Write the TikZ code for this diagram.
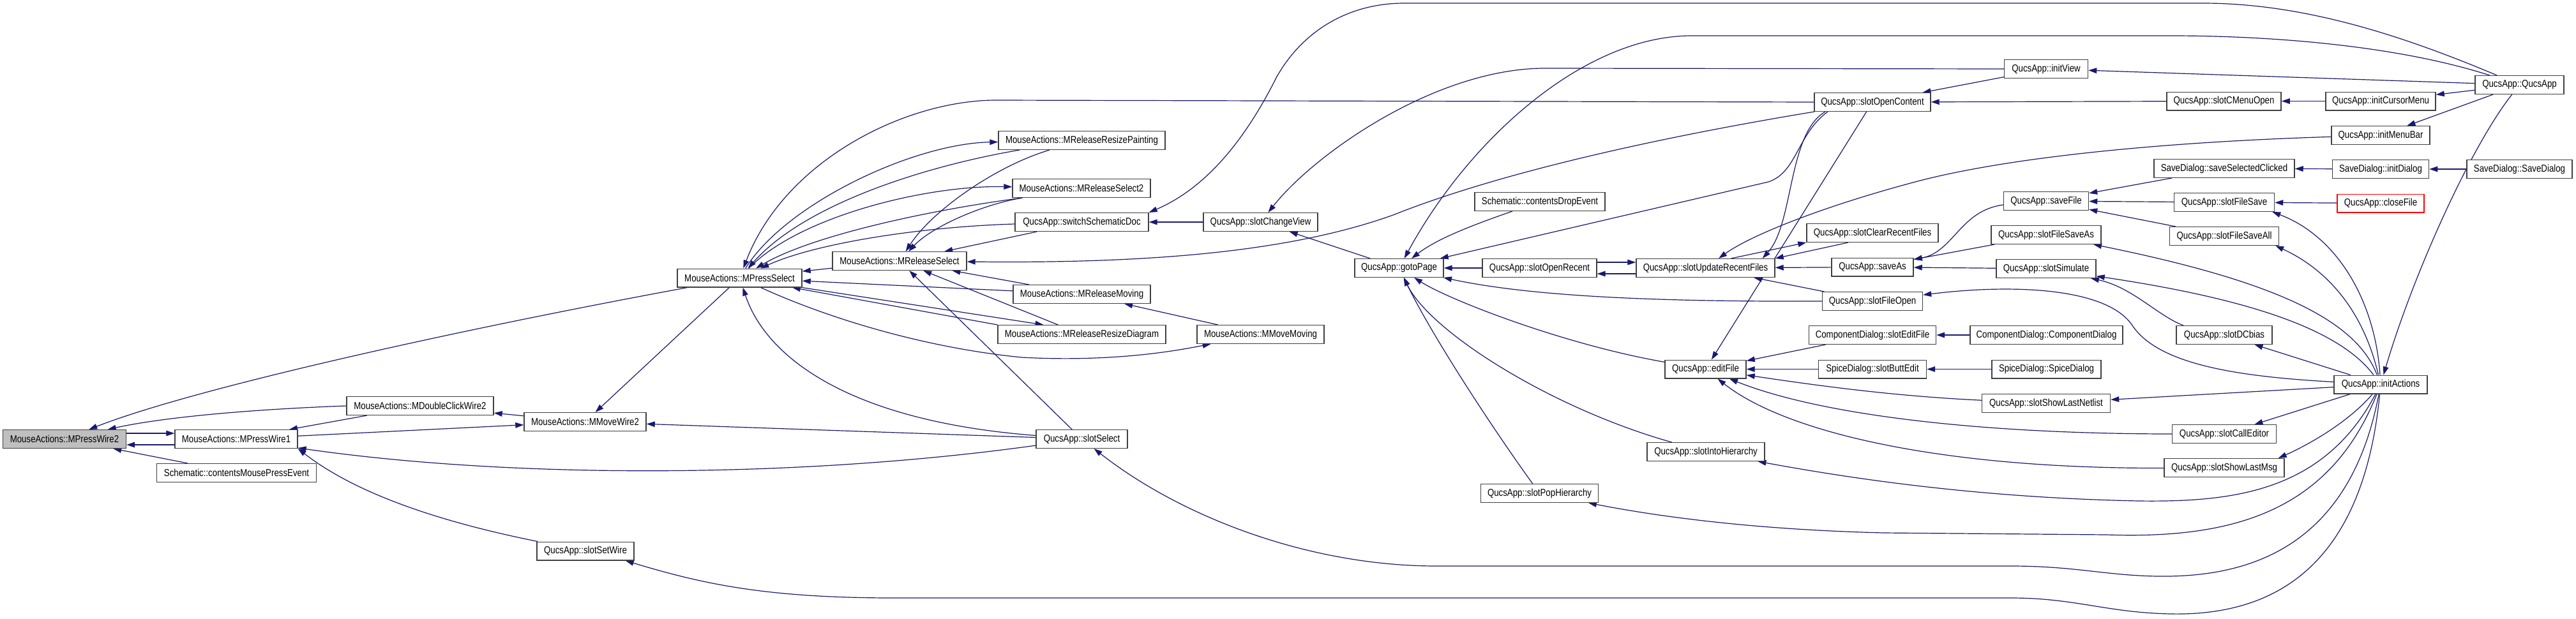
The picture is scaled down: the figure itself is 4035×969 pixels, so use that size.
\documentclass[tikz,border=0pt]{standalone}
\usepackage{fontspec}
\setmainfont[FakeStretch=0.84]{Liberation Sans}
\usetikzlibrary{arrows.meta}
\definecolor{edgec}{RGB}{25,25,112}
\definecolor{boxc}{RGB}{64,64,64}
\definecolor{selc}{RGB}{191,191,191}
\pgfdeclarelayer{bg}
\pgfsetlayers{bg,main}
\newcommand\fnode[5][]{\node[fn,minimum width={#4*0.5pt},#1] (#2) at #3 {#5};}
\begin{document}
\begin{tikzpicture}[x=0.5pt,y=-0.5pt,
  fn/.style={draw=boxc,line width=0.7pt,fill=white,minimum height=14.3pt,inner sep=0pt,font=\fontsize{7.9}{9}\selectfont},
  e/.style={draw=edgec,line width=0.6pt,-{Triangle[length=6.5pt,width=4.3pt]}}]
\useasboundingbox (0,0) rectangle (4035,969);
% nodes
\fnode[fill=selc]{n01}{(101,688)}{193}{MouseActions::MPressWire2}
\fnode{n02}{(370,688)}{192}{MouseActions::MPressWire1}
\fnode{n03}{(370.5,741)}{250}{Schematic::contentsMousePressEvent}
\fnode{n04}{(658,636)}{230}{MouseActions::MDoubleClickWire2}
\fnode{n05}{(916.5,661)}{191}{MouseActions::MMoveWire2}
\fnode{n06}{(917,863.5)}{152}{QucsApp::slotSetWire}
\fnode{n07}{(1158.5,435.5)}{195}{MouseActions::MPressSelect}
\fnode{n08}{(1409,409)}{210}{MouseActions::MReleaseSelect}
\fnode{n09}{(1694.5,220)}{261}{MouseActions::MReleaseResizePainting}
\fnode{n10}{(1694,295)}{216}{MouseActions::MReleaseSelect2}
\fnode{n11}{(1694.5,348)}{209}{QucsApp::switchSchematicDoc}
\fnode{n12}{(1974.5,348)}{179}{QucsApp::slotChangeView}
\fnode{n13}{(1694.5,461)}{215}{MouseActions::MReleaseMoving}
\fnode{n14}{(1694.5,524)}{263}{MouseActions::MReleaseResizeDiagram}
\fnode{n15}{(1974.5,524)}{199}{MouseActions::MMoveMoving}
\fnode{n16}{(1694.5,688)}{143}{QucsApp::slotSelect}
\fnode{n17}{(2191.5,420)}{139}{QucsApp::gotoPage}
\fnode{n18}{(2412,316)}{204}{Schematic::contentsDropEvent}
\fnode{n19}{(2411.5,420)}{179}{QucsApp::slotOpenRecent}
\fnode{n20}{(2671.5,420)}{217}{QucsApp::slotUpdateRecentFiles}
\fnode{n21}{(2671.5,578.5)}{127}{QucsApp::editFile}
\fnode{n22}{(2672,708)}{184}{QucsApp::slotIntoHierarchy}
\fnode{n23}{(2411.5,773)}{184}{QucsApp::slotPopHierarchy}
\fnode{n24}{(3205,108)}{131}{QucsApp::initView}
\fnode{n25}{(2933,160)}{182}{QucsApp::slotOpenContent}
\fnode{n26}{(3483.5,158.5)}{179}{QucsApp::slotCMenuOpen}
\fnode{n27}{(3484,264)}{220}{SaveDialog::saveSelectedClicked}
\fnode{n28}{(3205,315)}{133}{QucsApp::saveFile}
\fnode{n29}{(3484,317)}{157}{QucsApp::slotFileSave}
\fnode{n30}{(3484,370)}{171}{QucsApp::slotFileSaveAll}
\fnode{n31}{(2933,365)}{206}{QucsApp::slotClearRecentFiles}
\fnode{n32}{(3205,368)}{172}{QucsApp::slotFileSaveAs}
\fnode{n33}{(2933,418.5)}{128}{QucsApp::saveAs}
\fnode{n34}{(3205,421)}{156}{QucsApp::slotSimulate}
\fnode{n35}{(2933,472)}{157}{QucsApp::slotFileOpen}
\fnode{n36}{(2933,525)}{199}{ComponentDialog::slotEditFile}
\fnode{n37}{(3205.5,525)}{239}{ComponentDialog::ComponentDialog}
\fnode{n38}{(2933,578.5)}{169}{SpiceDialog::slotButtEdit}
\fnode{n39}{(3205.5,578.5)}{171}{SpiceDialog::SpiceDialog}
\fnode{n40}{(3205,632)}{201}{QucsApp::slotShowLastNetlist}
\fnode{n41}{(3484,525)}{150}{QucsApp::slotDCbias}
\fnode{n42}{(3484,680)}{163}{QucsApp::slotCallEditor}
\fnode{n43}{(3484,733)}{188}{QucsApp::slotShowLastMsg}
\fnode{n44}{(3946.5,133)}{139}{QucsApp::QucsApp}
\fnode{n45}{(3729,158.5)}{172}{QucsApp::initCursorMenu}
\fnode{n46}{(3729,212)}{154}{QucsApp::initMenuBar}
\fnode{n47}{(3729,265)}{151}{SaveDialog::initDialog}
\fnode{n48}{(3946.5,265)}{165}{SaveDialog::SaveDialog}
\fnode[draw=red]{n49}{(3729,318.5)}{136}{QucsApp::closeFile}
\fnode{n50}{(3729,602.5)}{146}{QucsApp::initActions}
\begin{pgfonlayer}{bg}
\fill[white] (0,0) rectangle (4035,969);
% left cluster
\draw[e] (n07) .. controls (700,520) and (300,610) .. (n01);
\draw[e] (n04.west) .. controls (380,642) and (250,655) .. (n01);
\draw[e] ([yshift=4.5pt]n01.east) -- ([yshift=4.5pt]n02.west);
\draw[e] ([yshift=-4.5pt]n02.west) -- ([yshift=-4.5pt]n01.east);
\draw[e] (n03) -- (n01);
\draw[e] (n04) -- (n02);
\draw[e] (n02) -- (n05);
\draw[e] (n16) .. controls (1250,750) and (800,750) .. (n02);
\draw[e] (n06) .. controls (650,810) and (540,760) .. (n02.south east);
\draw[e] (n05) -- (n04);
\draw[e] (n07) -- (n05);
\draw[e] (n16) -- (n05);
\draw[e] (n16) .. controls (1330,660) and (1200,560) .. (n07);
\draw[e] (n07) .. controls (1300,500) and (1450,545) .. (1600,560) .. controls (1750,568) and (1850,548) .. (n15);
\draw[e] (n07) .. controls (1230,320) and (1430,225) .. (n09);
\draw[e] ([xshift=17pt]n09.south west) .. controls (1450,260) and (1260,320) .. (n07);
\draw[e] (n07) .. controls (1250,340) and (1450,290) .. (n10);
\draw[e] ([xshift=8pt]n10.south west) .. controls (1450,330) and (1270,370) .. (n07);
\draw[e] (n11) .. controls (1450,355) and (1280,380) .. (n07);
\draw[e] (n25.west) -- (1560,157) .. controls (1420,157) and (1230,250) .. (n07);
\draw[e] (n08) -- (n07);
\draw[e] (n13) -- (n07);
\draw[e] (n14.north west) -- (n07);
\draw[e] (n07) -- ([xshift=-30pt]n14.north);
\draw[e] (n14) -- (n08);
\draw[e] (n09) .. controls (1560,260) and (1460,330) .. (n08);
\draw[e] (n10) .. controls (1540,320) and (1460,355) .. (n08);
\draw[e] (n11) -- (n08);
\draw[e] (n13) -- (n08);
\draw[e] (n25) .. controls (2600,215) and (2350,270) .. (2182,337) .. controls (2020,395) and (1800,413) .. (n08);
\draw[e] (n12) -- (n11);
\draw[e] (n44) .. controls (3750,50) and (3600,5) .. (3450,5) -- (2200,5) .. controls (2110,5) and (2040,50) .. (2000,120) .. controls (1960,200) and (1900,290) .. (n11.north east);
\draw[e] (n24.west) -- (2420,107) .. controls (2250,107) and (2060,240) .. (n12);
\draw[e] (n17) -- (n12);
\draw[e] (n15) -- (n13);
\draw[e] (n16) -- (n08);
% right cluster
\draw[e] ([xshift=-35pt]n25.south) .. controls (2815,210) and (2815,270) .. (2770,285) -- (n17);
\draw[e] ([xshift=-37pt]n25.south) .. controls (2800,210) and (2810,350) .. ([xshift=-10pt]n20.north east);
\draw[e] (n46) .. controls (3400,222) and (3150,245) .. (3000,285) .. controls (2850,325) and (2740,370) .. (n20);
\draw[e] (n19) -- (n17);
\draw[e] ([yshift=4.5pt]n19.east) -- ([yshift=4.5pt]n20.west);
\draw[e] ([yshift=-4.5pt]n20.west) -- ([yshift=-4.5pt]n19.east);
\draw[e] (n18) .. controls (2300,355) and (2250,375) .. (n17);
\draw[e] (n44) .. controls (3750,70) and (3550,56) .. (3400,56) -- (2650,56) .. controls (2480,56) and (2300,220) .. (n17);
\draw[e] (n44) -- (n24);
\draw[e] (n24) -- (n25);
\draw[e] (n26) -- (n25);
\draw[e] (n45) -- (n26);
\draw[e] (n44) -- (n45);
\draw[e] (n44) -- (n46);
\draw[e] (n44) .. controls (3870,230) and (3780,430) .. (n50);
\draw[e] (n48) -- (n47);
\draw[e] (n47) -- (n27);
\draw[e] (n27) -- (n28);
\draw[e] (n29) -- (n28);
\draw[e] (n49) -- (n29);
\draw[e] (n30) -- (n28);
\draw[e] ([yshift=-3pt]n28.west) .. controls (3070,330) and (3060,395) .. (n33);
\draw[e] (n32) -- (n33);
\draw[e] (n34) -- (n33);
\draw[e] (n33) -- (n20);
\draw[e] ([xshift=-19pt]n31.south) -- (n20.north east);
\draw[e] ([xshift=20pt]n20.north) -- (n31.south west);
\draw[e] (n35) -- (n20);
\draw[e] (n35.west) .. controls (2600,473) and (2400,465) .. (n17);
\draw[e] (n25) -- (n21);
\draw[e] (n21) .. controls (2450,540) and (2270,470) .. (n17);
\draw[e] (n22) .. controls (2430,640) and (2240,520) .. (n17);
\draw[e] (n23) .. controls (2330,660) and (2240,520) .. (n17);
\draw[e] (n36) -- (n21);
\draw[e] (n38) -- (n21);
\draw[e] (n40) .. controls (2950,620) and (2820,600) .. (n21);
\draw[e] (n42) .. controls (3100,680) and (2850,650) .. (n21);
\draw[e] (n43) .. controls (3050,735) and (2800,680) .. (n21);
\draw[e] (n37) -- (n36);
\draw[e] (n39) -- (n38);
\draw[e] (n50) -- (n40);
\draw[e] (n50) .. controls (3640,770) and (3500,787) .. (3350,785) .. controls (3100,780) and (2900,750) .. (n22);
\draw[e] (n50) .. controls (3650,800) and (3500,845) .. (3300,838) -- (2950,835) .. controls (2750,830) and (2600,810) .. (n23);
\draw[e] (n50) .. controls (3680,860) and (3520,905) .. (3380,903) .. controls (3300,902) and (3250,887) .. (3150,887) -- (2250,887) .. controls (2050,887) and (1850,810) .. (n16);
\draw[e] (n50) .. controls (3700,900) and (3550,965) .. (3400,962) .. controls (3300,960) and (3250,937) .. (3150,937) -- (1400,937) .. controls (1200,937) and (1100,915) .. ([xshift=-7pt]n06.south east);
\draw[e] (n50) .. controls (3680,660) and (3620,695) .. ([xshift=-5pt]n43.north east);
\draw[e] (n50) -- (n42);
\draw[e] (n50) -- (n41);
\draw[e] ([xshift=-32pt]n41.north) .. controls (3380,495) and (3340,450) .. (n34);
\draw[e] (n50) .. controls (3660,510) and (3500,465) .. (n34);
\draw[e] (n50) .. controls (3690,500) and (3560,440) .. (n32);
\draw[e] (n50) .. controls (3700,480) and (3640,420) .. ([xshift=-3pt]n30.south east);
\draw[e] (n50) .. controls (3720,470) and (3660,370) .. ([xshift=-2pt]n29.south east);
\draw[e] (n50) .. controls (3500,590) and (3380,570) .. (3340,510) .. controls (3300,450) and (3150,445) .. (n35);
\end{pgfonlayer}
\end{tikzpicture}
\end{document}
